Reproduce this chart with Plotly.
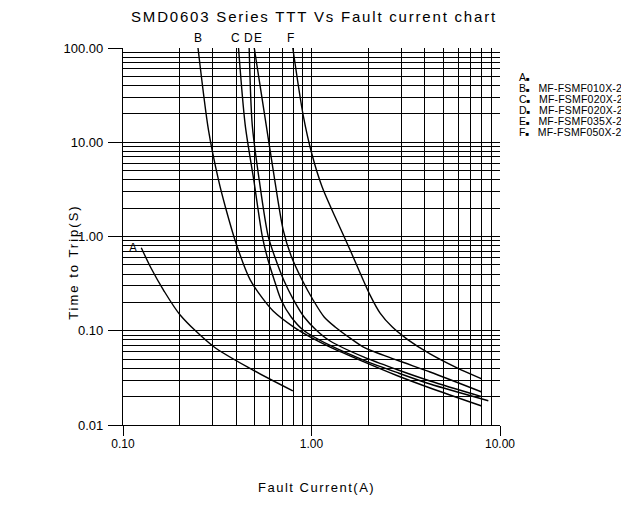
import math
import plotly.graph_objects as go

# ---- data ----
a_x = [0.125, 0.141, 0.164, 0.201, 0.302, 0.492, 0.796]
a_y = [0.76, 0.46, 0.27, 0.147, 0.068, 0.038, 0.023]

b_x = [0.250, 0.284, 0.321, 0.349, 0.399, 0.473, 0.548, 0.626, 0.802, 1.004, 1.256, 1.886, 2.834, 4.256, 8.0]
b_y = [100, 13.5, 3.98, 2.07, 0.833, 0.346, 0.223, 0.162, 0.110, 0.084, 0.067, 0.047, 0.0335, 0.0247, 0.0159]

c_x = [0.410, 0.445, 0.494, 0.548, 0.582, 0.642, 0.690, 0.780, 0.903, 1.256, 1.886, 2.834, 4.256, 8.67]
c_y = [100, 15.2, 3.98, 1.01, 0.606, 0.321, 0.212, 0.140, 0.102, 0.0698, 0.0489, 0.0361, 0.0272, 0.0181]

d_x = [0.467, 0.485, 0.528, 0.589, 0.642, 0.716, 0.799, 0.914, 1.058, 1.256, 1.886, 2.834, 4.256, 8.0]
d_y = [100, 15.2, 3.98, 1.01, 0.591, 0.337, 0.217, 0.140, 0.102, 0.0778, 0.0527, 0.0388, 0.0293, 0.020]

e_x = [0.497, 0.575, 0.638, 0.708, 0.780, 0.892, 1.020, 1.167, 1.335, 1.545, 1.886, 2.834, 4.256, 8.0]
e_y = [100, 15.2, 3.98, 1.17, 0.621, 0.3455, 0.212, 0.140, 0.1096, 0.088, 0.0672, 0.0489, 0.0365, 0.0224]

f_x = [0.796, 0.903, 1.008, 1.139, 1.335, 1.603, 1.811, 2.045, 2.312, 2.676, 3.253, 4.256, 5.918, 8.0]
f_y = [100, 19.45, 7.32, 3.35, 1.61, 0.719, 0.410, 0.239, 0.154, 0.110, 0.080, 0.0567, 0.0403, 0.0308]

curve_names = ["A", "B", "C", "D", "E", "F"]
legend_parts = ["", "MF-FSMF010X-2", "MF-FSMF020X-2", "MF-FSMF020X-2", "MF-FSMF035X-2", "MF-FSMF050X-2"]

x_major = [0.1, 1, 10]
x_labels = ["0.10", "1.00", "10.00"]
y_major = [0.01, 0.1, 1, 10, 100]
y_labels = ["0.01", "0.10", "1.00", "10.00", "100.00"]

title_text = "SMD0603 Series TTT Vs Fault current chart"
x_title = "Fault Current(A)"
y_title = "Time to Trip(S)"

# ---- figure ----
FONT = "Liberation Sans, Arial, sans-serif"
series = [(a_x, a_y), (b_x, b_y), (c_x, c_y), (d_x, d_y), (e_x, e_y), (f_x, f_y)]


def spaced(text, px):
    return "<span style='letter-spacing:%spx'>%s</span>" % (px, text)


fig = go.Figure()
for name, (xs, ys) in zip(curve_names, series):
    fig.add_trace(go.Scatter(x=xs, y=ys, mode="lines", name=name,
                             line=dict(color="black", width=1.4, shape="spline", smoothing=0.8),
                             showlegend=False, hoverinfo="skip"))


def minors(majors):
    out = []
    for m in majors[:-1]:
        out += [m * k for k in range(2, 10)]
    return out


PW, PH = 377.3, 377.0      # plot area size
PL, PT = 122.7, 48.0       # plot area origin in page pixels

fig.update_layout(
    width=621, height=517,
    margin=dict(l=114.7, r=129, t=40, b=100),
    paper_bgcolor="white", plot_bgcolor="white",
    font=dict(family=FONT, color="black", size=12),
    title=dict(text=spaced(title_text, 1.8), x=(314 - 8) / 621, y=1 - (17 - 8) / 517,
               xref="container", yref="container", xanchor="center", yanchor="middle",
               font=dict(family=FONT, size=15, color="black")),
)
fig.update_xaxes(
    type="log", range=[-1, 1],
    tickmode="array", tickvals=x_major, ticktext=x_labels,
    ticks="outside", ticklen=10, tickwidth=1.3, tickcolor="black",
    ticklabelstandoff=-3,
    showgrid=True, gridcolor="black", gridwidth=1.3,
    showline=True, linecolor="black", linewidth=1.3,
    zeroline=False, tickfont=dict(size=12),
    minor=dict(tickmode="array", tickvals=minors(x_major), showgrid=True,
               gridcolor="black", gridwidth=1.3, ticks=""),
)
fig.update_yaxes(
    type="log", range=[-2, 2],
    tickmode="array", tickvals=y_major, ticktext=y_labels,
    ticks="outside", ticklen=14, tickwidth=1.3, tickcolor="black",
    ticklabelstandoff=2,
    showgrid=True, gridcolor="black", gridwidth=1.3,
    showline=True, linecolor="black", linewidth=1.3,
    zeroline=False, tickfont=dict(size=13),
    minor=dict(tickmode="array", tickvals=minors(y_major), showgrid=True,
               gridcolor="black", gridwidth=1.3, ticks=""),
)

ann = []
# curve labels above the plot
label_shift = {"B": 0, "C": -3.5, "D": -1, "E": 3.5, "F": -2.5}
for name, (xs, ys) in zip(curve_names[1:], series[1:]):
    ann.append(dict(x=math.log10(xs[0]), xref="x", y=1.0, yref="paper", text=name,
                    xanchor="center", yanchor="bottom", yshift=1, xshift=label_shift[name],
                    showarrow=False, font=dict(family=FONT, size=12, color="black")))
ann.append(dict(x=math.log10(a_x[0]), xref="x", y=math.log10(a_y[0]), yref="y", text="A",
                xanchor="right", yanchor="middle", xshift=-2, showarrow=False,
                font=dict(family=FONT, size=12, color="black")))
# legend-like list at right
for i, (name, part) in enumerate(zip(curve_names, legend_parts)):
    txt = name + "<span style='font-size:6px'>■</span>" + ("\u00a0\u00a0\u00a0" + spaced(part, 0.2) if part else "")
    ann.append(dict(x=(517 - PL) / PW, xref="paper", y=1 - (77 - PT + 11 * i) / PH, yref="paper",
                    text=txt, xanchor="left", yanchor="middle", showarrow=False,
                    font=dict(family=FONT, size=10.5, color="black")))
# axis titles
ann.append(dict(x=(316 - PL) / PW, xref="paper", y=(425 - 487) / PH, yref="paper",
                text=spaced(x_title, 1.5), xanchor="center", yanchor="middle", showarrow=False,
                font=dict(family=FONT, size=13, color="black")))
ann.append(dict(x=(73 - PL) / PW, xref="paper", y=(425 - 262.5) / PH, yref="paper",
                text=spaced(y_title, 2), textangle=-90, xanchor="center", yanchor="middle",
                showarrow=False, font=dict(family=FONT, size=13, color="black")))
fig.update_layout(annotations=ann)

fig.write_html("out.html")
